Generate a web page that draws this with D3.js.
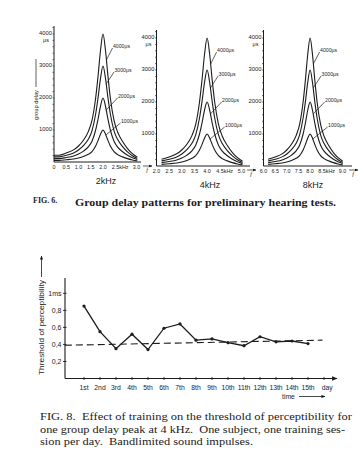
<!DOCTYPE html>
<html>
<head>
<meta charset="utf-8">
<script src="https://cdn.jsdelivr.net/npm/d3@7"></script>
<style>
body { margin: 0; background: #fff; }
svg { display: block; }
text { fill: #1c1c1c; }
</style>
</head>
<body>
<script>
// ---- FIG. 6 data: group delay (us) against kHz offset from each panel's centre frequency
var offsets   = [-2.0, -1.8, -1.5, -1.2, -1.0, -0.8, -0.6, -0.45, -0.3, -0.2, -0.1, 0, 0.1, 0.2, 0.3, 0.45, 0.6, 0.8, 1.0, 1.2, 1.4];
var delay4000 = [210, 210, 280, 380, 500, 680, 950, 1300, 2000, 2700, 3500, 4000, 3500, 2700, 2000, 1300, 930, 640, 420, 260, 150];
var delay3000 = [160, 160, 210, 285, 375, 510, 710, 975, 1500, 2020, 2620, 3000, 2620, 2020, 1500, 975, 700, 480, 315, 195, 110];
var delay2000 = [105, 105, 140, 190, 250, 340, 475, 650, 1000, 1350, 1750, 2000, 1750, 1350, 1000, 650, 465, 320, 210, 130, 75];
var delay1000 = [50, 50, 70, 95, 125, 170, 240, 325, 500, 675, 875, 1000, 875, 675, 500, 325, 230, 160, 105, 65, 35];
var curveLabels = ["4000\u03bcs", "3000\u03bcs", "2000\u03bcs", "1000\u03bcs"];
var centres = [2, 4, 8];
var panelNames = ["2kHz", "4kHz", "8kHz"];
var freqTicks = [
    [0, 0.5, 1.0, 1.5, 2.0, 2.5, 3.0],
    [2.0, 2.5, 3.0, 3.5, 4.0, 4.5, 5.0],
    [6.0, 6.5, 7.0, 7.5, 8.0, 8.5, 9.0]
];
var delayTicks = [1000, 2000, 3000, 4000];

// ---- FIG. 8 data
var days = ["1st", "2nd", "3rd", "4th", "5th", "6th", "7th", "8th", "9th", "10th", "11th", "12th", "13th", "14th", "15th"];
var threshold = [0.85, 0.55, 0.35, 0.52, 0.34, 0.59, 0.64, 0.45, 0.465, 0.42, 0.385, 0.49, 0.43, 0.44, 0.41];
var trendDays = [-0.2, 15.9];
var trendValues = [0.39, 0.45];
var msTicks = [0.2, 0.4, 0.6, 0.8, 1.0];
var msTickLabels = ["0,2", "0,4", "0,6", "0,8", "1ms"];

var ink = "#1c1c1c";
var svg = d3.select("body").append("svg")
    .attr("width", 362)
    .attr("height", 463);

svg.append("defs").append("marker")
    .attr("id", "arr")
    .attr("viewBox", "0 0 10 10")
    .attr("refX", 9).attr("refY", 5)
    .attr("markerWidth", 5).attr("markerHeight", 5)
    .attr("orient", "auto")
    .append("path")
    .attr("d", "M0,1 L10,5 L0,9 z")
    .attr("fill", ink);

// ================= FIG. 6 =================
var allDelays = [delay4000, delay3000, delay2000, delay1000];
var panelLeft = [54, 156.5, 263.5];
var pxPerKHz = [24.5, 25.3, 23.3];
var domainStart = [0, 2, 6];
var baseY = [162, 166, 166];
var axisEnd = [141, 250, 352];
var labelDx = [10, 11.5, 15, 18];
var labelDy = [-116, -92, -66, -41];

centres.forEach(function(c, p) {
    var g = svg.append("g").attr("class", "panel");
    var x = d3.scaleLinear()
        .domain([domainStart[p], domainStart[p] + 1])
        .range([panelLeft[p], panelLeft[p] + pxPerKHz[p]]);
    var y = d3.scaleLinear()
        .domain([0, 4000])
        .range([baseY[p], baseY[p] - 128]);

    // axes
    g.append("line")
        .attr("x1", panelLeft[p]).attr("x2", panelLeft[p])
        .attr("y1", baseY[p]).attr("y2", baseY[p] - 136)
        .attr("stroke", ink).attr("stroke-width", 1);
    g.append("line")
        .attr("x1", panelLeft[p]).attr("x2", axisEnd[p])
        .attr("y1", baseY[p]).attr("y2", baseY[p])
        .attr("stroke", ink).attr("stroke-width", 1);

    // minor ticks on the delay axis
    g.selectAll(".mt").data(d3.range(200, 4201, 200)).enter().append("line")
        .attr("x1", panelLeft[p] - 1.5).attr("x2", panelLeft[p])
        .attr("y1", function(d) { return y(d); })
        .attr("y2", function(d) { return y(d); })
        .attr("stroke", ink).attr("stroke-width", 0.6);

    g.selectAll(".yl").data(delayTicks).enter().append("text")
        .attr("x", panelLeft[p] - 2)
        .attr("y", function(d) { return y(d) + 0.5; })
        .attr("text-anchor", "end")
        .attr("font-family", "Liberation Sans, Arial, sans-serif")
        .attr("font-size", 5.8)
        .text(function(d) { return d; });
    g.append("text")
        .attr("x", panelLeft[p] - 5).attr("y", y(4000) + 8)
        .attr("text-anchor", "end")
        .attr("font-family", "Liberation Sans, Arial, sans-serif")
        .attr("font-size", 5.5)
        .text("\u03bcs");

    // frequency labels
    freqTicks[p].forEach(function(t, i) {
        var tx = x(t), anchor = "middle", s = t === 0 ? "0" : t.toFixed(1);
        if (i === 5) { s = s + "kHz"; anchor = "start"; tx = tx - 3.5; }
        if (i === 6) { tx = tx + 9; }
        g.append("text")
            .attr("x", tx).attr("y", baseY[p] + 7)
            .attr("text-anchor", anchor)
            .attr("font-family", "Liberation Sans, Arial, sans-serif")
            .attr("font-size", 5.4)
            .text(s);
    });

    // f arrow
    var fx = axisEnd[p] + (p === 0 ? 6 : 1);
    g.append("line")
        .attr("x1", fx - 4).attr("x2", fx + 5)
        .attr("y1", baseY[p] + 4).attr("y2", baseY[p] + 4)
        .attr("stroke", ink).attr("stroke-width", 0.7)
        .attr("marker-end", "url(#arr)");
    g.append("text")
        .attr("x", fx).attr("y", baseY[p] + 10)
        .attr("text-anchor", "middle")
        .attr("font-family", "Liberation Serif, serif")
        .attr("font-style", "italic")
        .attr("font-size", 6)
        .text("f");

    // curves
    var line = d3.line()
        .x(function(d) { return x(d[0]); })
        .y(function(d) { return y(d[1]); })
        .curve(d3.curveMonotoneX);
    var startIdx = p === 0 ? 0 : 1;

    allDelays.forEach(function(vals, k) {
        var pts = offsets.map(function(o, i) { return [c + o, vals[i]]; }).slice(startIdx);
        g.append("path")
            .attr("d", line(pts))
            .attr("fill", "none")
            .attr("stroke", ink)
            .attr("stroke-width", 1.1);

        // label and leader line
        var lx = x(c) + labelDx[k];
        var ly = baseY[p] + labelDy[k];
        var target = y.invert(ly + 14);
        var hitX = x(c);
        for (var i = offsets.indexOf(0); i < offsets.length - 1; i++) {
            if (vals[i] >= target && vals[i + 1] <= target) {
                var f = (vals[i] - target) / (vals[i] - vals[i + 1]);
                hitX = x(c + offsets[i] + f * (offsets[i + 1] - offsets[i]));
                break;
            }
        }
        g.append("line")
            .attr("x1", hitX).attr("y1", ly + 14)
            .attr("x2", lx - 0.5).attr("y2", ly + 2)
            .attr("stroke", ink).attr("stroke-width", 0.7);
        g.append("text")
            .attr("x", lx).attr("y", ly + 2)
            .attr("font-family", "Liberation Sans, Arial, sans-serif")
            .attr("font-size", 5.5)
            .attr("textLength", 17)
            .attr("lengthAdjust", "spacingAndGlyphs")
            .text(curveLabels[k]);
    });

    g.append("text")
        .attr("x", x(c) + 3).attr("y", baseY[p] + 22)
        .attr("text-anchor", "middle")
        .attr("font-family", "Liberation Sans, Arial, sans-serif")
        .attr("font-size", 9)
        .text(panelNames[p]);
});

// group delay axis title
var gd = svg.append("g").attr("transform", "translate(38,90) rotate(-90)");
gd.append("text")
    .attr("x", -30).attr("y", 0)
    .attr("font-family", "Liberation Sans, Arial, sans-serif")
    .attr("font-size", 5.5)
    .attr("textLength", 30)
    .attr("lengthAdjust", "spacingAndGlyphs")
    .text("group delay");
gd.append("line")
    .attr("x1", 3).attr("x2", 31).attr("y1", -2).attr("y2", -2)
    .attr("stroke", ink).attr("stroke-width", 0.7);

svg.append("text")
    .attr("x", 33).attr("y", 203)
    .attr("font-family", "Liberation Serif, Times New Roman, serif")
    .attr("font-size", 8)
    .attr("font-weight", "bold")
    .text("FIG. 6.");
svg.append("text")
    .attr("x", 75).attr("y", 206)
    .attr("font-family", "Liberation Serif, Times New Roman, serif")
    .attr("font-size", 11)
    .attr("font-weight", "bold")
    .attr("textLength", 261)
    .attr("lengthAdjust", "spacingAndGlyphs")
    .text("Group delay patterns for preliminary hearing tests.");

// ================= FIG. 8 =================
var x8 = d3.scaleLinear().domain([1, 15]).range([84, 308]);
var y8 = d3.scaleLinear().domain([0, 1]).range([378.5, 293.3]);
var g8 = svg.append("g");

g8.append("line")
    .attr("x1", 65).attr("x2", 65)
    .attr("y1", y8(0)).attr("y2", 278)
    .attr("stroke", ink).attr("stroke-width", 1.1);
g8.append("line")
    .attr("x1", 65).attr("x2", 337)
    .attr("y1", y8(0)).attr("y2", y8(0))
    .attr("stroke", ink).attr("stroke-width", 1.1)
    .attr("marker-end", "url(#arr)");

g8.selectAll(".yt").data(msTicks).enter().append("line")
    .attr("x1", 63).attr("x2", 66.5)
    .attr("y1", function(d) { return y8(d); })
    .attr("y2", function(d) { return y8(d); })
    .attr("stroke", ink).attr("stroke-width", 0.9);
g8.selectAll(".yl").data(msTicks).enter().append("text")
    .attr("x", 61.5)
    .attr("y", function(d) { return y8(d) + 2.5; })
    .attr("text-anchor", "end")
    .attr("font-family", "Liberation Sans, Arial, sans-serif")
    .attr("font-size", 7)
    .text(function(d, i) { return msTickLabels[i]; });

g8.selectAll(".xt").data(d3.range(1, 17)).enter().append("line")
    .attr("x1", function(d) { return x8(d); })
    .attr("x2", function(d) { return x8(d); })
    .attr("y1", y8(0) - 1.5).attr("y2", y8(0) + 1.5)
    .attr("stroke", ink).attr("stroke-width", 0.9);
g8.selectAll(".xl").data(days).enter().append("text")
    .attr("x", function(d, i) { return x8(i + 1); })
    .attr("y", 390)
    .attr("text-anchor", "middle")
    .attr("font-family", "Liberation Sans, Arial, sans-serif")
    .attr("font-size", 6.8)
    .text(function(d) { return d; });
g8.append("text")
    .attr("x", x8(16.2)).attr("y", 390)
    .attr("text-anchor", "middle")
    .attr("font-family", "Liberation Sans, Arial, sans-serif")
    .attr("font-size", 6.8)
    .text("day");
g8.append("text")
    .attr("x", 282).attr("y", 398.5)
    .attr("font-family", "Liberation Sans, Arial, sans-serif")
    .attr("font-size", 6.8)
    .text("time");
g8.append("line")
    .attr("x1", 299).attr("x2", 325)
    .attr("y1", 396.5).attr("y2", 396.5)
    .attr("stroke", ink).attr("stroke-width", 0.8)
    .attr("marker-end", "url(#arr)");

// trend (dashed)
g8.append("line")
    .attr("x1", x8(trendDays[0])).attr("y1", y8(trendValues[0]))
    .attr("x2", x8(trendDays[1])).attr("y2", y8(trendValues[1]))
    .attr("stroke", ink).attr("stroke-width", 1.1)
    .attr("stroke-dasharray", "7,4");

var line8 = d3.line()
    .x(function(d, i) { return x8(i + 1); })
    .y(function(d) { return y8(d); });
g8.append("path")
    .attr("d", line8(threshold))
    .attr("fill", "none")
    .attr("stroke", ink)
    .attr("stroke-width", 1.3);
g8.selectAll(".pt").data(threshold).enter().append("circle")
    .attr("cx", function(d, i) { return x8(i + 1); })
    .attr("cy", function(d) { return y8(d); })
    .attr("r", 1.6)
    .attr("fill", ink);

// y title
var ty = svg.append("g").attr("transform", "translate(44,375) rotate(-90)");
ty.append("text")
    .attr("x", 0).attr("y", 0)
    .attr("font-family", "Liberation Sans, Arial, sans-serif")
    .attr("font-size", 7)
    .attr("textLength", 95)
    .attr("lengthAdjust", "spacingAndGlyphs")
    .text("Threshold of perceptibility");
ty.append("line")
    .attr("x1", 98).attr("x2", 119)
    .attr("y1", -2.5).attr("y2", -2.5)
    .attr("stroke", ink).attr("stroke-width", 0.8)
    .attr("marker-end", "url(#arr)");

// caption
var cap = [
    ["FIG. 8.  Effect of training on the threshold of perceptibility for", 419.5, 312],
    ["one group delay peak at 4 kHz.  One subject, one training ses-", 433, 305],
    ["sion per day.  Bandlimited sound impulses.", 444.5, 213]
];
cap.forEach(function(c) {
    svg.append("text")
        .attr("x", 40).attr("y", c[1])
        .attr("font-family", "Liberation Serif, Times New Roman, serif")
        .attr("font-size", 11)
        .attr("textLength", c[2])
        .attr("lengthAdjust", "spacingAndGlyphs")
        .style("white-space", "pre")
        .text(c[0]);
});
</script>
</body>
</html>
